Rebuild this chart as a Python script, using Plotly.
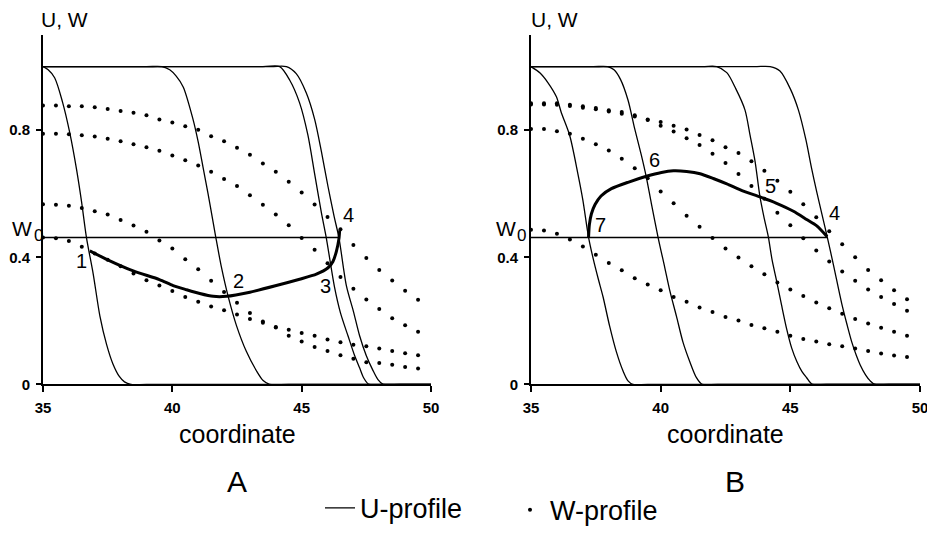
import plotly.graph_objects as go

# ---------------- data ----------------
W0 = 0.462

W_X = [35.0, 35.5, 36.0, 36.5, 37.0, 37.5, 38.0, 38.5, 39.0, 39.5,
       40.0, 40.5, 41.0, 41.5, 42.0, 42.5, 43.0, 43.5, 44.0, 44.5,
       45.0, 45.5, 46.0, 46.5, 47.0, 47.5, 48.0, 48.5, 49.0, 49.5]

WA1 = [0.878, 0.878, 0.875, 0.875, 0.872, 0.867, 0.860, 0.855, 0.847, 0.834,
       0.824, 0.812, 0.801, 0.781, 0.765, 0.745, 0.723, 0.695, 0.669, 0.638,
       0.604, 0.566, 0.527, 0.488, 0.439, 0.398, 0.360, 0.327, 0.295, 0.266]
WA2 = [0.789, 0.789, 0.787, 0.784, 0.780, 0.773, 0.765, 0.756, 0.746, 0.735,
       0.720, 0.705, 0.689, 0.669, 0.646, 0.624, 0.595, 0.565, 0.535, 0.501,
       0.461, 0.424, 0.381, 0.338, 0.301, 0.267, 0.237, 0.208, 0.186, 0.166]
WA3 = [0.567, 0.565, 0.562, 0.555, 0.545, 0.535, 0.517, 0.500, 0.480, 0.453,
       0.428, 0.394, 0.362, 0.326, 0.291, 0.257, 0.225, 0.198, 0.179, 0.153,
       0.135, 0.118, 0.105, 0.092, 0.081, 0.070, 0.067, 0.062, 0.055, 0.050]
WA4 = [0.462, 0.460, 0.451, 0.433, 0.412, 0.392, 0.372, 0.349, 0.328, 0.311,
       0.294, 0.275, 0.260, 0.245, 0.233, 0.220, 0.206, 0.194, 0.181, 0.172,
       0.162, 0.153, 0.141, 0.133, 0.125, 0.120, 0.113, 0.105, 0.098, 0.092]

WB1 = [0.885, 0.885, 0.885, 0.880, 0.875, 0.870, 0.863, 0.857, 0.847, 0.834,
       0.826, 0.814, 0.802, 0.785, 0.768, 0.746, 0.728, 0.702, 0.672, 0.641,
       0.606, 0.567, 0.526, 0.482, 0.441, 0.400, 0.360, 0.328, 0.296, 0.268]
WB2 = [0.881, 0.881, 0.880, 0.876, 0.871, 0.866, 0.859, 0.852, 0.843, 0.832,
       0.814, 0.796, 0.775, 0.753, 0.726, 0.697, 0.662, 0.624, 0.584, 0.540,
       0.501, 0.460, 0.421, 0.387, 0.355, 0.326, 0.299, 0.275, 0.253, 0.232]
WB3 = [0.804, 0.804, 0.797, 0.789, 0.773, 0.756, 0.736, 0.710, 0.680, 0.649,
       0.607, 0.570, 0.531, 0.496, 0.461, 0.428, 0.399, 0.372, 0.347, 0.321,
       0.299, 0.278, 0.258, 0.240, 0.222, 0.206, 0.192, 0.178, 0.166, 0.153]
WB4 = [0.487, 0.484, 0.474, 0.456, 0.434, 0.408, 0.382, 0.359, 0.334, 0.314,
       0.296, 0.275, 0.260, 0.242, 0.228, 0.212, 0.201, 0.187, 0.177, 0.166,
       0.153, 0.143, 0.135, 0.126, 0.120, 0.113, 0.105, 0.097, 0.091, 0.086]

UA1_X = [35.0, 35.2, 35.45, 35.75, 36.04, 36.3, 36.49, 36.68, 36.94, 37.2,
         37.46, 37.7, 37.95, 38.15, 38.4, 39.0, 50.0]
UA1_Y = [1.0, 0.99, 0.965, 0.89, 0.79, 0.675, 0.575, 0.462, 0.348, 0.215,
         0.125, 0.065, 0.025, 0.008, 0.0, 0.0, 0.0]
UA2_X = [35.0, 39.0, 39.6, 39.9, 40.15, 40.42, 40.8, 41.0, 41.19, 41.38, 41.58,
         41.68, 41.9, 42.16, 42.48, 42.86, 43.25, 43.51, 43.76, 44.5, 50.0]
UA2_Y = [1.0, 1.0, 1.0, 0.99, 0.97, 0.936, 0.834, 0.763, 0.682, 0.60, 0.509,
         0.463, 0.368, 0.276, 0.185, 0.104, 0.043, 0.012, 0.0, 0.0, 0.0]
UA3_X = [35.0, 43.5, 44.15, 44.54, 44.92, 45.24, 45.5, 45.76, 45.95, 46.27,
         46.5, 46.79, 47.05, 47.24, 47.4, 47.6, 48.2, 50.0]
UA3_Y = [1.0, 1.0, 1.0, 0.957, 0.886, 0.785, 0.663, 0.541, 0.462, 0.306,
         0.225, 0.153, 0.09, 0.052, 0.02, 0.0, 0.0, 0.0]
UA4_X = [35.0, 43.8, 44.41, 44.79, 45.18, 45.5, 45.76, 46.02, 46.25, 46.44,
         46.73, 47.0, 47.24, 47.5, 47.75, 47.95, 48.15, 48.8, 50.0]
UA4_Y = [1.0, 1.0, 1.0, 0.978, 0.917, 0.835, 0.734, 0.622, 0.53, 0.462,
         0.31, 0.23, 0.153, 0.09, 0.045, 0.015, 0.0, 0.0, 0.0]

UB1_X = [35.0, 35.35, 35.65, 35.98, 36.17, 36.49, 36.81, 37.0, 37.22, 37.4,
         37.6, 37.78, 38.03, 38.29, 38.55, 38.74, 38.93, 39.5, 50.0]
UB1_Y = [1.0, 0.98, 0.95, 0.905, 0.855, 0.784, 0.662, 0.58, 0.463, 0.395,
         0.33, 0.275, 0.184, 0.103, 0.042, 0.011, 0.0, 0.0, 0.0]
UB2_X = [35.0, 37.4, 37.95, 38.2, 38.45, 38.74, 39.0, 39.25, 39.45, 39.64,
         39.9, 40.16, 40.35, 40.61, 40.86, 41.12, 41.38, 41.6, 42.2, 50.0]
UB2_Y = [1.0, 1.0, 1.0, 0.99, 0.96, 0.895, 0.804, 0.723, 0.651, 0.570,
         0.463, 0.367, 0.296, 0.214, 0.133, 0.072, 0.021, 0.0, 0.0, 0.0]
UB3_X = [35.0, 41.6, 42.16, 42.55, 42.9, 43.25, 43.45, 43.64, 43.83, 44.0, 44.15,
         44.3, 44.47, 44.66, 44.86, 45.05, 45.25, 45.45, 45.63, 45.85, 46.4, 50.0]
UB3_Y = [1.0, 1.0, 1.0, 0.981, 0.93, 0.864, 0.783, 0.702, 0.59, 0.52, 0.465,
         0.39, 0.326, 0.25, 0.174, 0.115, 0.072, 0.04, 0.021, 0.0, 0.0, 0.0]
UB4_X = [35.0, 43.6, 44.22, 44.6, 45.0, 45.31, 45.6, 45.82, 46.02, 46.22, 46.42,
         46.66, 46.98, 47.18, 47.37, 47.55, 47.69, 47.9, 48.08, 48.26, 48.8, 50.0]
UB4_Y = [1.0, 1.0, 1.0, 0.986, 0.93, 0.864, 0.77, 0.68, 0.605, 0.535, 0.465,
         0.377, 0.255, 0.19, 0.133, 0.09, 0.062, 0.03, 0.011, 0.0, 0.0, 0.0]

TA_X = [36.81, 37.5, 38.49, 39.5, 40.03, 40.55, 41.06, 41.58, 42.09, 43.0,
        44.02, 44.92, 45.57, 46.02, 46.21, 46.34, 46.44, 46.47]
TA_Y = [0.42, 0.392, 0.357, 0.33, 0.311, 0.298, 0.286, 0.277, 0.277, 0.29,
        0.311, 0.331, 0.347, 0.367, 0.387, 0.418, 0.458, 0.485]
TB_X = [46.42, 46.02, 45.63, 45.12, 44.47, 43.83, 43.19, 42.55, 42.03, 41.52,
        41.0, 40.49, 40.03, 39.45, 38.74, 38.1, 37.7, 37.47, 37.33, 37.25, 37.22]
TB_Y = [0.465, 0.499, 0.519, 0.545, 0.570, 0.59, 0.608, 0.631, 0.648, 0.663,
        0.670, 0.672, 0.667, 0.655, 0.636, 0.616, 0.593, 0.566, 0.537, 0.502, 0.463]

W0A_X = [35.0, 46.47]
W0B_X = [35.0, 46.42]

LAB_A = ["1", "2", "3", "4"]
LAB_A_X = [36.49, 42.56, 45.91, 46.81]
LAB_A_Y = [0.387, 0.324, 0.309, 0.532]
LAB_B = ["4", "5", "6", "7"]
LAB_B_X = [46.69, 44.23, 39.78, 37.69]
LAB_B_Y = [0.540, 0.623, 0.705, 0.502]

X_TICKS = [35, 40, 45, 50]
Y_TICKS = [0, 0.4, 0.8]
Y_TICKTEXT = ["0", "0.4", "0.8"]

# ---------------- figure ----------------
FONT = "Liberation Sans, Arial, sans-serif"
W, H = 927, 535
fig = go.Figure()

def px_x(p):
    return p / W

def px_y(p):
    return 1 - p / H

U_STYLE = dict(color="black", width=1.3, shape="spline", smoothing=0.8)

panels = [
    ("x", "y", [(UA1_X, UA1_Y), (UA2_X, UA2_Y), (UA3_X, UA3_Y), (UA4_X, UA4_Y)],
     [WA1, WA2, WA3, WA4], (TA_X, TA_Y), W0A_X),
    ("x2", "y2", [(UB1_X, UB1_Y), (UB2_X, UB2_Y), (UB3_X, UB3_Y), (UB4_X, UB4_Y)],
     [WB1, WB2, WB3, WB4], (TB_X, TB_Y), W0B_X),
]

for pi, (xa, ya, ucurves, wprofs, thick, w0x) in enumerate(panels):
    for ui, (ux, uy) in enumerate(ucurves):
        fig.add_trace(go.Scatter(
            x=ux, y=uy, mode="lines", line=U_STYLE, xaxis=xa, yaxis=ya,
            name="U-profile", showlegend=(pi == 0 and ui == 0), legend="legend",
            hoverinfo="skip"))
    for wi, wy in enumerate(wprofs):
        fig.add_trace(go.Scatter(
            x=W_X, y=wy, mode="markers", xaxis=xa, yaxis=ya,
            marker=dict(color="black", size=4), cliponaxis=False,
            name="W-profile", showlegend=(pi == 0 and wi == 0), legend="legend2",
            hoverinfo="skip"))
    fig.add_trace(go.Scatter(
        x=w0x, y=[W0, W0], mode="lines", line=dict(color="black", width=1.5),
        xaxis=xa, yaxis=ya, showlegend=False, hoverinfo="skip"))
    fig.add_trace(go.Scatter(
        x=thick[0], y=thick[1], mode="lines",
        line=dict(color="black", width=3, shape="spline", smoothing=0.6),
        xaxis=xa, yaxis=ya, showlegend=False, cliponaxis=False, hoverinfo="skip"))

ax_common = dict(
    range=[35, 50], tickvals=X_TICKS, ticks="outside", ticklen=6, tickwidth=1.5,
    tickcolor="black", showline=True, linewidth=2, linecolor="black",
    showgrid=False, zeroline=False, ticklabelstandoff=3, automargin=False,
    ticklabeloverflow="allow",
    tickfont=dict(family=FONT, size=15, color="black", weight="bold"),
)
ay_common = dict(
    range=[0, 1.1], tickvals=Y_TICKS, ticktext=Y_TICKTEXT, ticks="outside",
    ticklen=5, tickwidth=1.5, tickcolor="black", showline=True, linewidth=2,
    linecolor="black", showgrid=False, zeroline=False, ticklabelstandoff=3,
    automargin=False,
    tickfont=dict(family=FONT, size=15, color="black", weight="bold"),
)
y_dom = [px_y(397), px_y(36)]
fig.update_layout(
    xaxis=dict(domain=[px_x(43), px_x(431)], anchor="y", **ax_common),
    yaxis=dict(domain=y_dom, anchor="x", **ay_common),
    xaxis2=dict(domain=[px_x(531), px_x(920)], anchor="y2", **ax_common),
    yaxis2=dict(domain=y_dom, anchor="x2", **ay_common),
)

annotations = []
def ann(text, x, y, size, xanchor="center", yanchor="middle", xref="paper", yref="paper"):
    annotations.append(dict(text=text, x=x, y=y, xref=xref, yref=yref,
                            showarrow=False, xanchor=xanchor, yanchor=yanchor,
                            font=dict(family=FONT, size=size, color="black")))

for t, x, y in zip(LAB_A, LAB_A_X, LAB_A_Y):
    ann(t, x, y, 20, xref="x", yref="y")
for t, x, y in zip(LAB_B, LAB_B_X, LAB_B_Y):
    ann(t, x, y, 20, xref="x2", yref="y2")

ann("U, W", px_x(39), px_y(20), 21, xanchor="left")
ann("U, W", px_x(529), px_y(20), 21, xanchor="left")
ann("W", px_x(22), px_y(236.5), 21)
ann("0", px_x(38), px_y(243.5), 17)
ann("W", px_x(506), px_y(236.5), 21)
ann("0", px_x(521), px_y(243.5), 17)
ann("coordinate", px_x(237), px_y(448), 25)
ann("coordinate", px_x(725.5), px_y(448), 25)
ann("A", px_x(236.5), px_y(497), 30)
ann("B", px_x(735), px_y(497), 30)

fig.update_layout(
    width=W, height=H, autosize=False,
    margin=dict(l=0, r=0, t=0, b=0, pad=0),
    paper_bgcolor="white", plot_bgcolor="white",
    annotations=annotations,
    legend=dict(orientation="h", x=px_x(320), y=px_y(525), xanchor="left",
                yanchor="middle", font=dict(family=FONT, size=27, color="black"),
                bgcolor="rgba(0,0,0,0)", borderwidth=0),
    legend2=dict(orientation="h", x=px_x(510), y=px_y(527), xanchor="left",
                 yanchor="middle", font=dict(family=FONT, size=27, color="black"),
                 bgcolor="rgba(0,0,0,0)", borderwidth=0),
)

fig.write_html("out.html")
